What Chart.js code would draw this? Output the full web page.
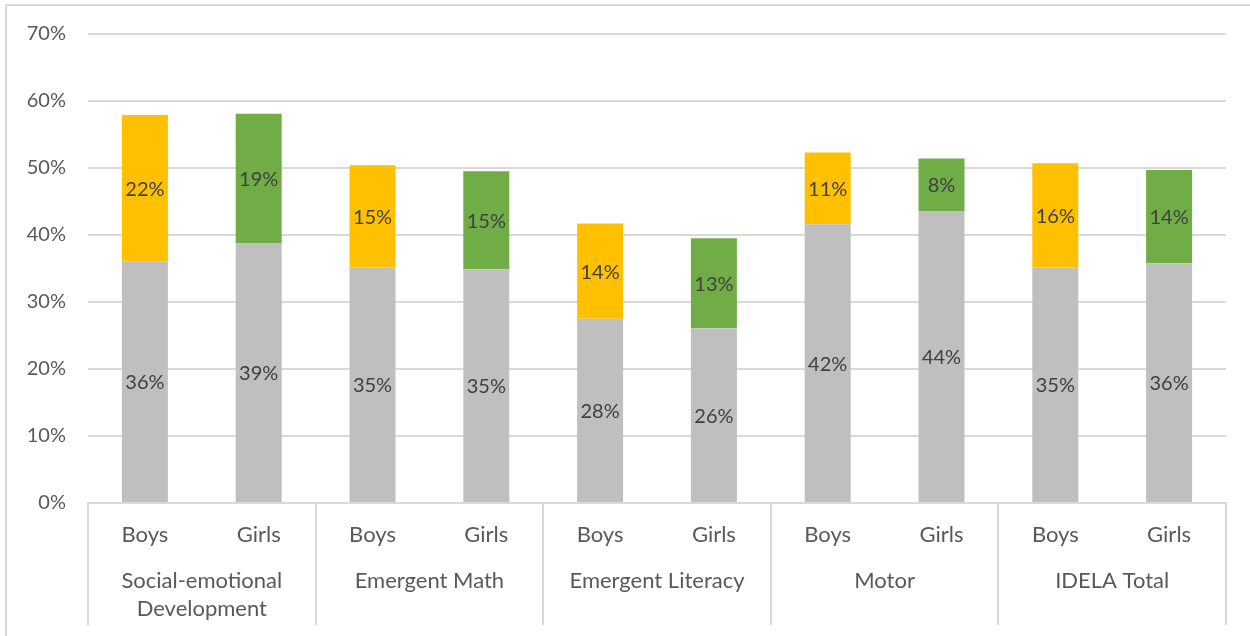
<!DOCTYPE html>
<html>
<head>
<meta charset="utf-8">
<script src="https://cdn.jsdelivr.net/npm/chart.js@4"></script>
<style>
  html, body { margin: 0; padding: 0; background: #fff; }
  #wrap { position: absolute; left: 0; top: 0; width: 1250px; height: 636px; }
</style>
</head>
<body>
<div id="wrap"><canvas id="c" width="1250" height="636"></canvas></div>
<script>
const groups = [['Social-emotional', 'Development'], 'Emergent Math', 'Emergent Literacy', 'Motor', 'IDELA Total'];
const bars = ['Boys', 'Girls', 'Boys', 'Girls', 'Boys', 'Girls', 'Boys', 'Girls', 'Boys', 'Girls'];
const baseValues = [36.1, 38.8, 35.2, 34.9, 27.5, 26.1, 41.6, 43.6, 35.2, 35.8];
const gainValues = [21.8, 19.3, 15.2, 14.6, 14.2, 13.4, 10.7, 7.8, 15.5, 13.9];
const yTicks = [0, 10, 20, 30, 40, 50, 60, 70];

const GRAY = '#BFBFBF', YELLOW = '#FFC000', GREEN = '#70AD47';
const gainColors = bars.map(b => b === 'Boys' ? YELLOW : GREEN);
const FONT = 'Lato, "Open Sans", sans-serif';

const frame = {
  id: 'frame',
  beforeDraw(chart) {
    const ctx = chart.ctx;
    ctx.save();
    ctx.fillStyle = '#fff';
    ctx.fillRect(0, 0, chart.width, chart.height);
    ctx.strokeStyle = '#D9D9D9';
    ctx.lineWidth = 2;
    ctx.strokeRect(6, 5, 1260, 700);
    ctx.restore();
  },
  afterDraw(chart) {
    const ctx = chart.ctx, x = chart.scales.x, area = chart.chartArea;
    const xs = [area.left];
    for (let i = 1; i < bars.length; i += 2) {
      if (i + 1 < bars.length) xs.push((x.getPixelForValue(i) + x.getPixelForValue(i + 1)) / 2);
    }
    xs.push(area.right);
    ctx.save();
    ctx.strokeStyle = '#D9D9D9';
    ctx.lineWidth = 2;
    xs.forEach(px => {
      ctx.beginPath();
      ctx.moveTo(Math.round(px), area.bottom);
      ctx.lineTo(Math.round(px), 625);
      ctx.stroke();
    });
    ctx.restore();
  }
};

const labels = {
  id: 'labels',
  afterDatasetsDraw(chart) {
    const ctx = chart.ctx;
    ctx.save();
    ctx.font = '20px ' + FONT;
    ctx.fillStyle = '#404040';
    ctx.textAlign = 'center';
    ctx.textBaseline = 'middle';
    chart.data.datasets.forEach((ds, di) => {
      chart.getDatasetMeta(di).data.forEach((el, i) => {
        const v = ds.data[i];
        ctx.fillText(Math.round(v) + '%', el.x, (el.y + el.base) / 2 + 1);
      });
    });
    ctx.restore();
  }
};

new Chart(document.getElementById('c'), {
  type: 'bar',
  data: {
    labels: bars,
    datasets: [
      { label: 'Base', data: baseValues, backgroundColor: GRAY, xAxisID: 'x', stack: 's' },
      { label: 'Gain', data: gainValues, backgroundColor: gainColors, xAxisID: 'x', stack: 's' }
    ]
  },
  options: {
    responsive: false,
    animation: false,
    devicePixelRatio: 1,
    layout: { padding: { left: 0, right: 24, top: 24, bottom: 0 } },
    plugins: { legend: { display: false }, tooltip: { enabled: false } },
    datasets: { bar: { barPercentage: 0.404, categoryPercentage: 1 } },
    scales: {
      y: {
        stacked: true,
        min: 0, max: 70,
        afterBuildTicks(s) { s.ticks = yTicks.map(v => ({ value: v })); },
        afterFit(s) { s.width = 88; },
        grid: { color: '#D9D9D9', lineWidth: 2, drawTicks: false },
        border: { display: false },
        ticks: { padding: 22, color: '#595959', font: { size: 20, family: FONT }, callback: v => v + '%' }
      },
      x: {
        stacked: true,
        position: 'bottom',
        afterFit(s) { s.height = 50; },
        grid: { display: false, drawTicks: false },
        border: { display: true, color: '#D9D9D9', width: 2 },
        ticks: { padding: 19, color: '#595959', font: { size: 22, family: FONT }, maxRotation: 0, autoSkip: false }
      },
      x2: {
        type: 'category',
        position: 'bottom',
        labels: groups,
        offset: true,
        afterFit(s) { s.height = 83; },
        grid: { display: false, drawTicks: false },
        border: { display: false },
        ticks: { padding: 14, color: '#595959', font: { size: 22, family: FONT, lineHeight: 1.28 }, maxRotation: 0, autoSkip: false }
      }
    }
  },
  plugins: [frame, labels]
});
</script>
</body>
</html>
